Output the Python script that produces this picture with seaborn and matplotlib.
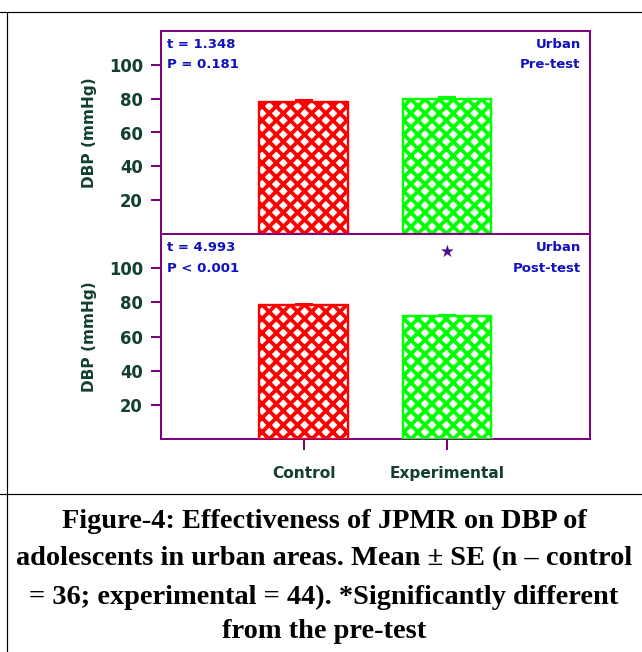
import numpy as np
import pandas as pd
import seaborn as sns
import matplotlib.pyplot as plt
from matplotlib.lines import Line2D

# data
groups = ['Control', 'Experimental']
pre_mean = [78.3, 80.0]
pre_se = [0.8, 0.8]
post_mean = [78.4, 71.8]
post_se = [0.8, 0.7]
pre_stats = ['t = 1.348', 'P = 0.181']
post_stats = ['t = 4.993', 'P < 0.001']
pre_tag = ['Urban', 'Pre-test']
post_tag = ['Urban', 'Post-test']
star_y = 109.5
yticks = [20, 40, 60, 80, 100]
caption = ['Figure-4: Effectiveness of JPMR on DBP of',
           'adolescents in urban areas. Mean \u00b1 SE (n \u2013 control',
           '= 36; experimental = 44). *Significantly different',
           'from the pre-test']

bar_colors = ['#ff0000', '#00ff00']
purple = '#800080'
dkgreen = '#123f30'
blue = '#1010c0'

sns.set_style('white')
plt.rcParams['font.family'] = ['DejaVu Sans']
plt.rcParams['text.color'] = 'black'
plt.rcParams['hatch.linewidth'] = 3.2

DPI = 85
fig = plt.figure(figsize=(642 / DPI, 652 / DPI), dpi=DPI)
W, H = 642, 652
left, right = 160.7, 590


def make_axes(top, bottom):
    return fig.add_axes([left / W, 1 - bottom / H, (right - left) / W, (bottom - top) / H])


ax1 = make_axes(31, 234)
ax2 = make_axes(234, 439.3)


def draw_panel(ax, means, ses, stats, tag):
    df = pd.DataFrame({'group': groups, 'DBP': means})
    sns.barplot(data=df, x='group', y='DBP', hue='group', palette=bar_colors,
                width=0.62, errorbar=None, legend=False, ax=ax, zorder=3)
    for p, c in zip(ax.patches, bar_colors):
        p.set_facecolor('white')
        p.set_edgecolor(c)
        p.set_hatch('xx')
        p.set_linewidth(2.0)
    for i, (m, s, c) in enumerate(zip(means, ses, bar_colors)):
        ax.errorbar(i, m, yerr=[[0], [s]], color=c, capsize=7.5, capthick=1.8,
                    elinewidth=1.5, zorder=2)
    ax.set_xlim(-1, 2)
    ax.set_ylim(0, 120)
    ax.set_yticks(yticks)
    ax.tick_params(axis='y', left=True, length=8.5, width=1.7, color=purple,
                   labelsize=14, labelcolor=dkgreen, pad=6.5)
    for lab in ax.get_yticklabels():
        lab.set_fontweight('bold')
    for sp in ax.spines.values():
        sp.set_color(purple)
        sp.set_linewidth(1.7)
    ax.set_ylabel('DBP (mmHg)', fontsize=13, fontweight='bold', color=dkgreen, labelpad=10)
    ax.set_xlabel('')
    kw = dict(transform=ax.transAxes, fontsize=11.2, fontweight='bold', color=blue, va='center')
    ax.text(0.0154, 0.934, stats[0], ha='left', **kw)
    ax.text(0.0154, 0.834, stats[1], ha='left', **kw)
    ax.text(0.978, 0.934, tag[0], ha='right', **kw)
    ax.text(0.978, 0.834, tag[1], ha='right', **kw)


draw_panel(ax1, pre_mean, pre_se, pre_stats, pre_tag)
draw_panel(ax2, post_mean, post_se, post_stats, post_tag)

ax1.tick_params(axis='x', bottom=False, labelbottom=False)
ax2.tick_params(axis='x', bottom=True, length=9, width=1.7, color=purple,
                labelsize=13, labelcolor=dkgreen, pad=14)
for lab in ax2.get_xticklabels():
    lab.set_fontweight('bold')

ax2.text(1, star_y, '\u2605', ha='center', va='center', fontsize=14,
         color='#4b0f8c')

# table frame lines
lw = 1.0
fig.add_artist(Line2D([0, 1], [1 - 12.3 / H] * 2, color='black', lw=lw))
fig.add_artist(Line2D([7.3 / W] * 2, [0, 1 - 12.3 / H], color='black', lw=lw))
fig.add_artist(Line2D([0, 1], [1 - 494 / H] * 2, color='black', lw=lw))

# caption
for line, yy in zip(caption, [521, 559, 597, 632]):
    fig.text(324 / W, 1 - yy / H, line, ha='center', va='center', fontsize=24,
             fontweight='bold', color='black', family=['Liberation Serif', 'DejaVu Serif'])

fig.savefig('out.png', dpi=DPI)
